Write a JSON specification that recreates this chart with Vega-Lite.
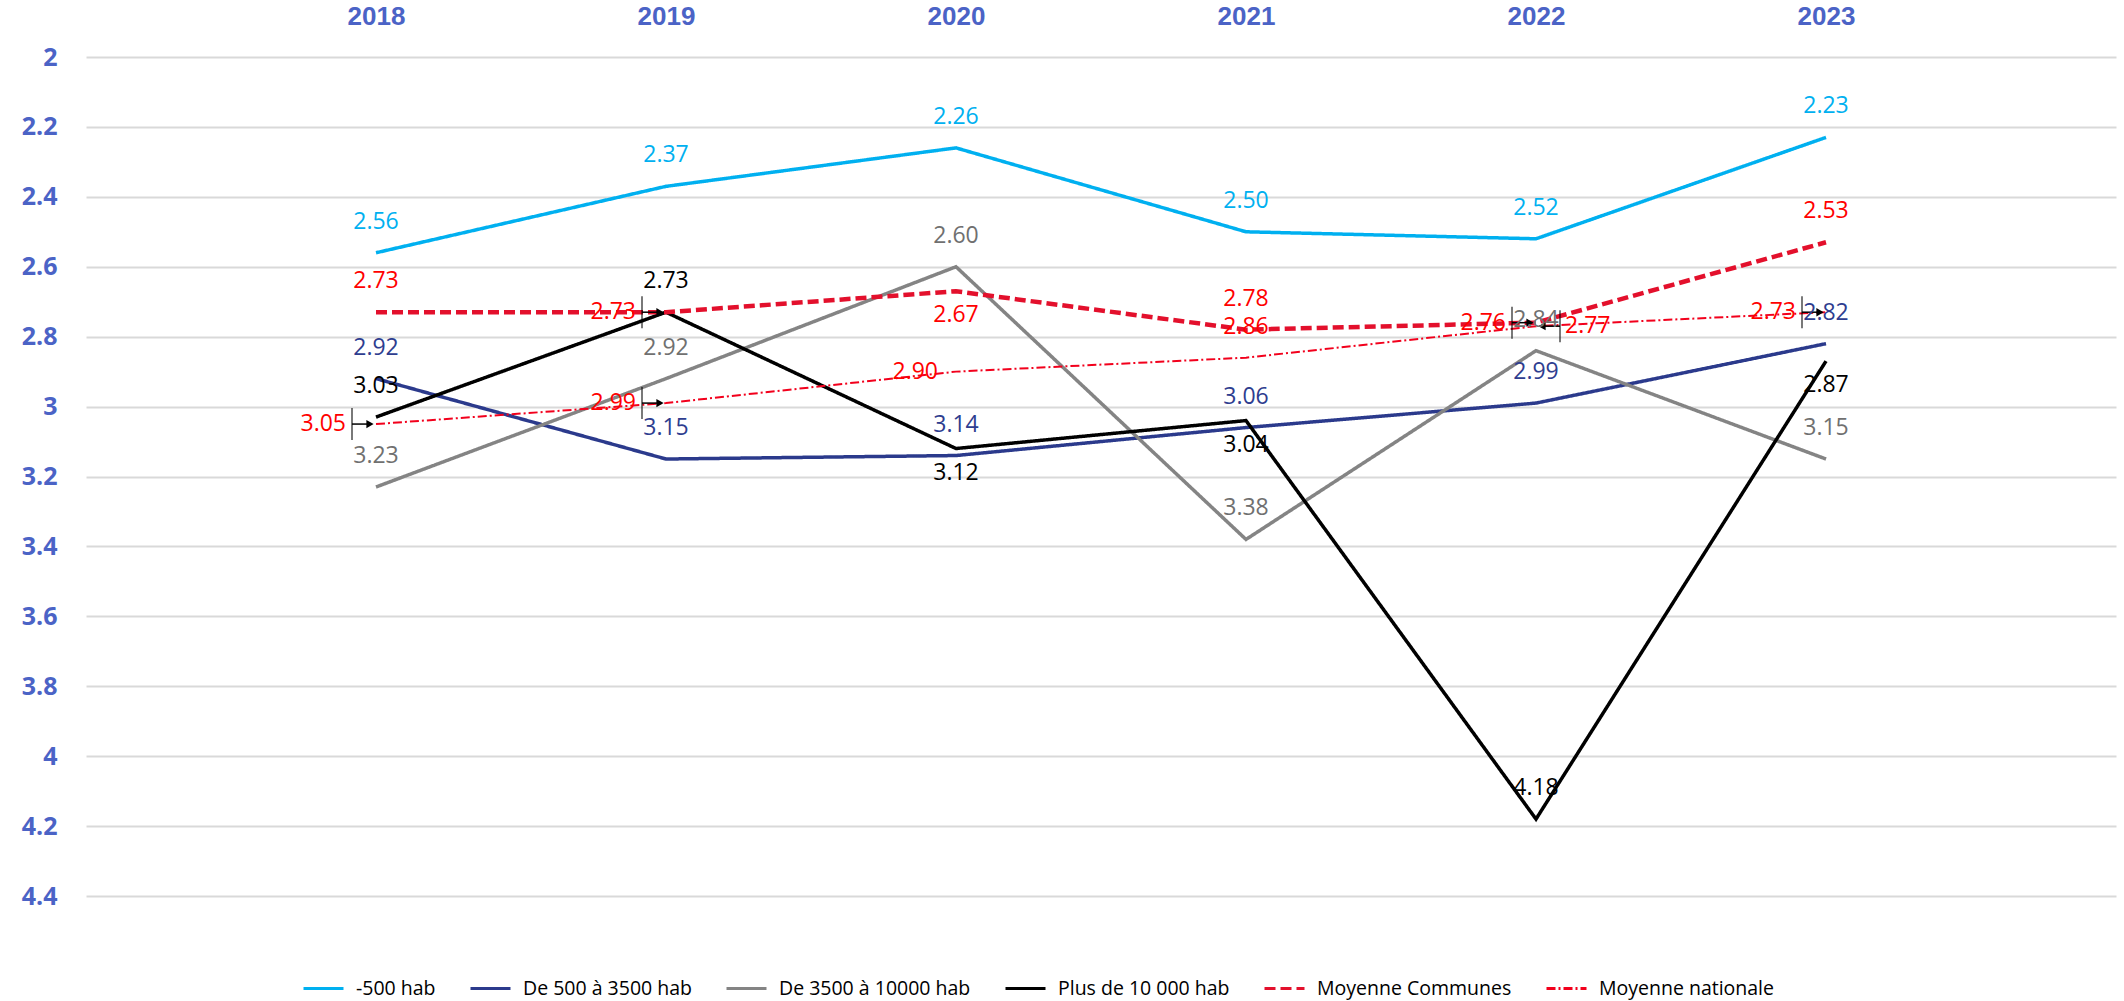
{
  "$schema": "https://vega.github.io/schema/vega-lite/v6.json",
  "width": 2030,
  "height": 839,
  "autosize": {"type": "none"},
  "padding": {"left": 86, "top": 57, "right": 8, "bottom": 105},
  "background": "white",
  "config": {
    "view": {"stroke": null},
    "text": {"font": "Open Sans", "fontSize": 23, "baseline": "middle"},
    "legend": {
      "orient": "none",
      "legendX": 216,
      "legendY": 910,
      "direction": "horizontal",
      "title": null,
      "labelFont": "Open Sans",
      "labelFontSize": 19.5,
      "labelColor": "#000000",
      "labelOffset": 11,
      "labelLimit": 0,
      "columnPadding": 28,
      "symbolType": "stroke",
      "symbolSize": 1600,
      "symbolStrokeWidth": 3
    }
  },
  "data": {
    "values": [
      {"series": "-500 hab", "year": 2018, "value": 2.56, "pos": "above"},
      {"series": "-500 hab", "year": 2019, "value": 2.37, "pos": "above"},
      {"series": "-500 hab", "year": 2020, "value": 2.26, "pos": "above"},
      {"series": "-500 hab", "year": 2021, "value": 2.50, "pos": "above"},
      {"series": "-500 hab", "year": 2022, "value": 2.52, "pos": "above"},
      {"series": "-500 hab", "year": 2023, "value": 2.23, "pos": "above"},
      {"series": "De 500 à 3500 hab", "year": 2018, "value": 2.92, "pos": "above"},
      {"series": "De 500 à 3500 hab", "year": 2019, "value": 3.15, "pos": "above"},
      {"series": "De 500 à 3500 hab", "year": 2020, "value": 3.14, "pos": "above"},
      {"series": "De 500 à 3500 hab", "year": 2021, "value": 3.06, "pos": "above"},
      {"series": "De 500 à 3500 hab", "year": 2022, "value": 2.99, "pos": "above"},
      {"series": "De 500 à 3500 hab", "year": 2023, "value": 2.82, "pos": "above"},
      {"series": "De 3500 à 10000 hab", "year": 2018, "value": 3.23, "pos": "above"},
      {"series": "De 3500 à 10000 hab", "year": 2019, "value": 2.92, "pos": "above"},
      {"series": "De 3500 à 10000 hab", "year": 2020, "value": 2.60, "pos": "above"},
      {"series": "De 3500 à 10000 hab", "year": 2021, "value": 3.38, "pos": "above"},
      {"series": "De 3500 à 10000 hab", "year": 2022, "value": 2.84, "pos": "above"},
      {"series": "De 3500 à 10000 hab", "year": 2023, "value": 3.15, "pos": "above"},
      {"series": "Plus de 10 000 hab", "year": 2018, "value": 3.03, "pos": "above"},
      {"series": "Plus de 10 000 hab", "year": 2019, "value": 2.73, "pos": "above"},
      {"series": "Plus de 10 000 hab", "year": 2020, "value": 3.12, "pos": "below"},
      {"series": "Plus de 10 000 hab", "year": 2021, "value": 3.04, "pos": "below"},
      {"series": "Plus de 10 000 hab", "year": 2022, "value": 4.18, "pos": "above"},
      {"series": "Plus de 10 000 hab", "year": 2023, "value": 2.87, "pos": "below"},
      {"series": "Moyenne Communes", "year": 2018, "value": 2.73, "pos": "above"},
      {"series": "Moyenne Communes", "year": 2019, "value": 2.73, "pos": "leftlead"},
      {"series": "Moyenne Communes", "year": 2020, "value": 2.67, "pos": "below"},
      {"series": "Moyenne Communes", "year": 2021, "value": 2.78, "pos": "above"},
      {"series": "Moyenne Communes", "year": 2022, "value": 2.76, "pos": "leftlead"},
      {"series": "Moyenne Communes", "year": 2023, "value": 2.53, "pos": "above"},
      {"series": "Moyenne nationale", "year": 2018, "value": 3.05, "pos": "leftlead"},
      {"series": "Moyenne nationale", "year": 2019, "value": 2.99, "pos": "leftlead"},
      {"series": "Moyenne nationale", "year": 2020, "value": 2.90, "pos": "left"},
      {"series": "Moyenne nationale", "year": 2021, "value": 2.86, "pos": "above"},
      {"series": "Moyenne nationale", "year": 2022, "value": 2.77, "pos": "rightlead"},
      {"series": "Moyenne nationale", "year": 2023, "value": 2.73, "pos": "leftlead"}
    ]
  },
  "encoding": {
    "x": {
      "field": "year",
      "type": "ordinal",
      "scale": {"type": "point", "padding": 1},
      "axis": {
        "orient": "top",
        "title": null,
        "domain": false,
        "ticks": false,
        "tickSize": 0,
        "labelPadding": 28,
        "labelAngle": 0,
        "labelFont": "Liberation Sans",
        "labelFontWeight": "bold",
        "labelFontSize": 26,
        "labelColor": "#4b63c6",
        "grid": false
      }
    },
    "y": {
      "field": "value",
      "type": "quantitative",
      "scale": {"domain": [2, 4.4], "reverse": true, "nice": false, "zero": false},
      "axis": {
        "title": null,
        "values": [2, 2.2, 2.4, 2.6, 2.8, 3, 3.2, 3.4, 3.6, 3.8, 4, 4.2, 4.4],
        "format": "~g",
        "domain": false,
        "ticks": false,
        "tickSize": 0,
        "labelPadding": 29,
        "labelFont": "Open Sans",
        "labelFontWeight": "bold",
        "labelFontSize": 25,
        "labelColor": "#4b63c6",
        "grid": true,
        "gridColor": "#d9d9d9",
        "gridWidth": 2
      }
    }
  },
  "layer": [
    {
      "mark": {"type": "line", "strokeCap": "butt"},
      "encoding": {
        "color": {
          "field": "series",
          "type": "nominal",
          "scale": {
            "domain": ["-500 hab", "De 500 à 3500 hab", "De 3500 à 10000 hab", "Plus de 10 000 hab", "Moyenne Communes", "Moyenne nationale"],
            "range": ["#00b0f0", "#2b3a8c", "#848484", "#000000", "#e3102c", "#f2001c"]
          },
          "legend": {
            "encode": {
              "symbols": {
                "update": {
                  "strokeDash": {"scale": "strokeDash", "field": "value"}
                }
              }
            }
          }
        },
        "strokeDash": {
          "field": "series",
          "type": "nominal",
          "legend": null,
          "scale": {
            "domain": ["-500 hab", "De 500 à 3500 hab", "De 3500 à 10000 hab", "Plus de 10 000 hab", "Moyenne Communes", "Moyenne nationale"],
            "range": [[1, 0], [1, 0], [1, 0], [1, 0], [11, 5], [9, 3, 2, 3]]
          }
        },
        "strokeWidth": {
          "condition": [
            {"test": "datum.series === 'Moyenne Communes'", "value": 4.5},
            {"test": "datum.series === 'Moyenne nationale'", "value": 2}
          ],
          "value": 3.5
        }
      }
    },
    {
      "transform": [{"filter": "datum.pos === 'leftlead'"}],
      "mark": {"type": "tick", "orient": "vertical", "xOffset": -24, "size": 32, "thickness": 1.5, "color": "#000000"},
      "encoding": {}
    },
    {
      "transform": [{"filter": "datum.pos === 'rightlead'"}],
      "mark": {"type": "tick", "orient": "vertical", "xOffset": 24, "size": 32, "thickness": 1.5, "color": "#000000"},
      "encoding": {}
    },
    {
      "transform": [{"filter": "datum.pos === 'leftlead'"}],
      "mark": {"type": "rule", "xOffset": -24, "x2Offset": -6, "strokeWidth": 1.5, "color": "#000000"},
      "encoding": {"x2": {"field": "year"}}
    },
    {
      "transform": [{"filter": "datum.pos === 'rightlead'"}],
      "mark": {"type": "rule", "xOffset": 24, "x2Offset": 6, "strokeWidth": 1.5, "color": "#000000"},
      "encoding": {"x2": {"field": "year"}}
    },
    {
      "transform": [{"filter": "datum.pos === 'leftlead'"}],
      "mark": {"type": "point", "shape": "triangle-right", "filled": true, "opacity": 1, "size": 70, "xOffset": -6, "color": "#000000"},
      "encoding": {}
    },
    {
      "transform": [{"filter": "datum.pos === 'rightlead'"}],
      "mark": {"type": "point", "shape": "triangle-left", "filled": true, "opacity": 1, "size": 70, "xOffset": 6, "color": "#000000"},
      "encoding": {}
    },
    {
      "transform": [{"filter": "datum.pos === 'above'"}],
      "mark": {"type": "text", "dy": -31, "align": "center"},
      "encoding": {
        "text": {"field": "value", "type": "quantitative", "format": ".2f"},
        "color": {"field": "series", "type": "nominal", "legend": null,
          "scale": {"domain": ["-500 hab", "De 500 à 3500 hab", "De 3500 à 10000 hab", "Plus de 10 000 hab", "Moyenne Communes", "Moyenne nationale"],
            "range": ["#00b0f0", "#2e3d8f", "#707070", "#000000", "#ff0000", "#ff0000"]}}
      }
    },
    {
      "transform": [{"filter": "datum.pos === 'below'"}],
      "mark": {"type": "text", "dy": 24, "align": "center"},
      "encoding": {
        "text": {"field": "value", "type": "quantitative", "format": ".2f"},
        "color": {"field": "series", "type": "nominal", "legend": null,
          "scale": {"domain": ["-500 hab", "De 500 à 3500 hab", "De 3500 à 10000 hab", "Plus de 10 000 hab", "Moyenne Communes", "Moyenne nationale"],
            "range": ["#00b0f0", "#2e3d8f", "#707070", "#000000", "#ff0000", "#ff0000"]}}
      }
    },
    {
      "transform": [{"filter": "datum.pos === 'left'"}],
      "mark": {"type": "text", "dx": -18, "align": "right"},
      "encoding": {
        "text": {"field": "value", "type": "quantitative", "format": ".2f"},
        "color": {"field": "series", "type": "nominal", "legend": null,
          "scale": {"domain": ["-500 hab", "De 500 à 3500 hab", "De 3500 à 10000 hab", "Plus de 10 000 hab", "Moyenne Communes", "Moyenne nationale"],
            "range": ["#00b0f0", "#2e3d8f", "#707070", "#000000", "#ff0000", "#ff0000"]}}
      }
    },
    {
      "transform": [{"filter": "datum.pos === 'leftlead'"}],
      "mark": {"type": "text", "dx": -30, "align": "right"},
      "encoding": {
        "text": {"field": "value", "type": "quantitative", "format": ".2f"},
        "color": {"field": "series", "type": "nominal", "legend": null,
          "scale": {"domain": ["-500 hab", "De 500 à 3500 hab", "De 3500 à 10000 hab", "Plus de 10 000 hab", "Moyenne Communes", "Moyenne nationale"],
            "range": ["#00b0f0", "#2e3d8f", "#707070", "#000000", "#ff0000", "#ff0000"]}}
      }
    },
    {
      "transform": [{"filter": "datum.pos === 'rightlead'"}],
      "mark": {"type": "text", "dx": 29, "align": "left"},
      "encoding": {
        "text": {"field": "value", "type": "quantitative", "format": ".2f"},
        "color": {"field": "series", "type": "nominal", "legend": null,
          "scale": {"domain": ["-500 hab", "De 500 à 3500 hab", "De 3500 à 10000 hab", "Plus de 10 000 hab", "Moyenne Communes", "Moyenne nationale"],
            "range": ["#00b0f0", "#2e3d8f", "#707070", "#000000", "#ff0000", "#ff0000"]}}
      }
    }
  ],
  "resolve": {"scale": {"color": "independent"}}
}
